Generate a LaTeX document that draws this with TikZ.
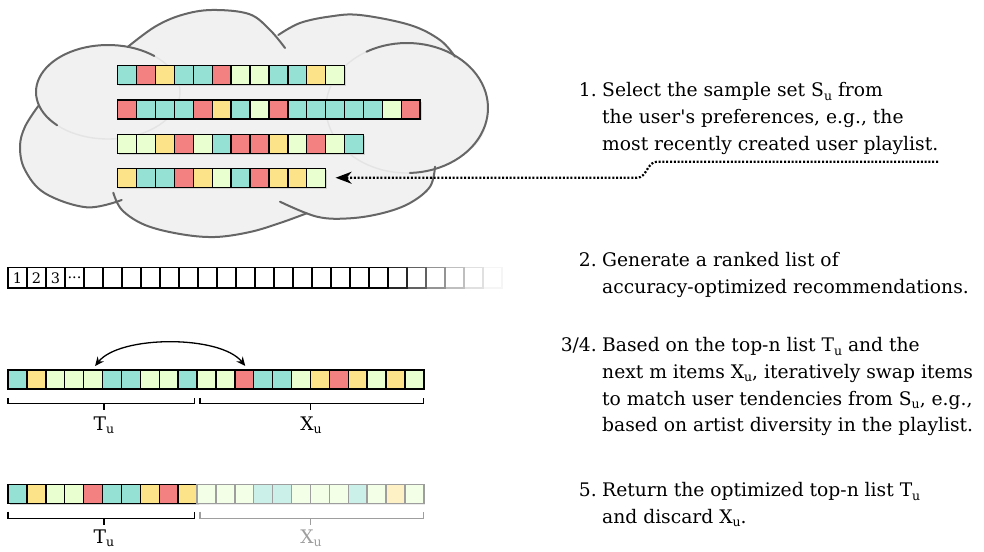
\documentclass[tikz,border=0pt]{standalone}
\usepackage{fontspec}
\setmainfont{DejaVu Serif}
\usetikzlibrary{arrows.meta}

% palette of the playlist items
\definecolor{cT}{HTML}{95E1D3}
\definecolor{cR}{HTML}{F38181}
\definecolor{cY}{HTML}{FCE38A}
\definecolor{cG}{HTML}{EAFFD0}
\colorlet{fT}{cT!50!white}
\colorlet{fR}{cR!50!white}
\colorlet{fY}{cY!50!white}
\colorlet{fG}{cG!50!white}
\definecolor{cloudfill}{HTML}{F1F1F1}
\definecolor{cloudline}{HTML}{666666}
\definecolor{cloudfaint}{HTML}{E4E4E4}
\colorlet{shadowc}{black!18}
\colorlet{fadeline}{black!38}

\newcommand{\subu}{\raisebox{-3.5pt}{\fontsize{12.5}{12.5}\selectfont u}}
\newcommand{\apos}{\textquotesingle}
\newcommand{\rankdots}{...}

\tikzset{
  cell/.style={draw=black, line width=1.4pt, minimum width=18.9pt, minimum height=18.9pt,
               inner sep=0pt, outer sep=0pt, anchor=north west},
  rankcell/.style={cell, line width=1.1pt, minimum width=19pt, minimum height=20.5pt,
                   fill=white, font=\fontsize{14.5}{14.5}\selectfont},
  bodytext/.style={font=\fontsize{18.7}{22}\selectfont, inner sep=0pt, anchor=base west},
  numtext/.style={bodytext, anchor=base east},
  lobe/.style={draw=cloudline, line width=2pt, line cap=round},
  faintlobe/.style={draw=cloudfaint, line width=1.4pt},
  brace/.style={line width=1.5pt},
  swap/.style={line width=1.3pt, {Stealth[length=9pt,width=8pt]}-{Stealth[length=9pt,width=8pt]}},
  link/.style={line width=2.2pt, dash pattern=on 2pt off 1.8pt,
               -{Stealth[length=16pt,width=12pt,inset=5pt]}},
}

% a row of coloured items: name prefix, left x, top y, number of normal items, colours
\newcommand{\cellrow}[5]{%
  \foreach \c [count=\i from 1] in {#5} {
    \ifnum\i>#4\relax
      \fill[black!8] ({#2+18.9*(\i-1)+1.5},{#3+1.5}) rectangle +(18.9,18.9);
      \node[cell, draw=fadeline, fill=f\c] (#1-\i) at ({#2+18.9*(\i-1)},#3) {};
    \else
      \fill[shadowc] ({#2+18.9*(\i-1)+1.5},{#3+1.5}) rectangle +(18.9,18.9);
      \node[cell, fill=c\c] (#1-\i) at ({#2+18.9*(\i-1)},#3) {};
    \fi
  }}

\begin{document}
\begin{tikzpicture}[x=1pt,y=-1pt]
\useasboundingbox (0,0) rectangle (984,551);

% ---- cloud of user playlists ----
\fill[cloudfill] (108,92) ellipse [x radius=72, y radius=47];
\fill[cloudfill] (407,108) ellipse [x radius=81, y radius=65];
\fill[cloudfill]
  plot[smooth, tension=0.6] coordinates {(56.7,126) (41.7,110) (35.7,91.7) (48,66.7) (75,50) (108.3,45) (131.7,46.7) (156.7,52.7)}
  -- plot[smooth, tension=0.6] coordinates {(128,46.7) (155,26.7) (181.7,15) (211.7,10) (249,14) (270,30) (285,48)}
  -- plot[smooth, tension=0.6] coordinates {(278.3,35) (300,23) (330,16.5) (360,15) (410,25) (440,40) (455,56.7)}
  -- plot[smooth, tension=0.6] coordinates {(365,51.7) (406.7,43.3) (450,55) (476.7,78.3) (488.3,106.7) (480,140) (450,163) (410,175)}
  -- plot[smooth, tension=0.6] coordinates {(435,166.7) (430,186.7) (410,203) (383,213) (350,218.3) (317,216.7) (280,201.7)}
  -- plot[smooth, tension=0.6] coordinates {(306.7,213.3) (280,223) (250,232) (215,237) (180,234) (145,225) (122,210) (113.3,192.7)}
  -- plot[smooth, tension=0.6] coordinates {(121.7,200) (86.7,207.3) (45,193.3) (25,170) (20,146.7) (25,126.7) (38.3,106)}
  -- cycle;
\fill[cloudfill] (45,110) -- (135,55) -- (280,50) -- (440,55) -- (425,170) -- (305,208) -- (118,192) -- (40,150) -- cycle;

% hidden parts of the lobes, barely visible through the fill
\draw[faintlobe] plot[domain=225:410, samples=40] ({108+72*cos(\x)},{92-47*sin(\x)});
\draw[faintlobe] plot[domain=120:272, samples=40] ({407+81*cos(\x)},{108-65*sin(\x)});

% visible outlines of the lobes
\draw[lobe] plot[domain=50:225, samples=40] ({108+72*cos(\x)},{92-47*sin(\x)});
\draw[lobe] plot[smooth, tension=0.6] coordinates {(128,46.7) (155,26.7) (181.7,15) (211.7,10) (249,14) (270,30) (285,48)};
\draw[lobe] plot[smooth, tension=0.6] coordinates {(278.3,35) (300,23) (330,16.5) (360,15) (410,25) (440,40) (455,56.7)};
\draw[lobe] plot[domain=-88:120, samples=50] ({407+81*cos(\x)},{108-65*sin(\x)});
\draw[lobe] plot[smooth, tension=0.6] coordinates {(435,166.7) (430,186.7) (410,203) (383,213) (350,218.3) (317,216.7) (280,201.7)};
\draw[lobe] plot[smooth, tension=0.6] coordinates {(306.7,213.3) (280,223) (250,232) (215,237) (180,234) (145,225) (122,210) (113.3,192.7)};
\draw[lobe] plot[smooth, tension=0.6] coordinates {(121.7,200) (86.7,207.3) (45,193.3) (25,170) (20,146.7) (25,126.7) (38.3,106)};

\cellrow{p1}{117.7}{65.7}{99}{T,R,Y,T,T,R,G,G,T,T,Y,G}
\cellrow{p2}{117.7}{100}{99}{R,T,T,T,R,Y,T,G,R,T,T,T,T,T,G,R}
\cellrow{p3}{117.7}{134.3}{99}{G,G,Y,R,G,T,R,R,Y,G,R,G,T}
\cellrow{p4}{117.7}{168.3}{99}{Y,T,T,R,Y,G,T,R,Y,Y,G}

% ---- dotted link from step 1 to the chosen playlist ----
\coordinate (lk1) at (938,161.7);
\coordinate (lk2) at (657,161.7);
\coordinate (lk3) at (637,177.75);
\draw[link] (lk1) -- (lk2) .. controls (647,161.7) and (647,177.75) .. (lk3) -- ([xshift=10pt]p4-11.east);

% ---- ranked recommendation list, fading out to the right ----
\foreach \i/\p in {26/4,25/12,24/25,23/42,22/62,21/85} {
  \node[rankcell, draw=black!\p] (k-\i) at ({8+19*(\i-1)},267.5) {};
}
\foreach \i/\t in {1/1,2/2,3/3,4/\rankdots,5/,6/,7/,8/,9/,10/,11/,12/,13/,14/,15/,16/,17/,18/,19/,20/} {
  \node[rankcell] (k-\i) at ({8+19*(\i-1)},267.5) {\t};
}

% ---- swap step ----
\cellrow{rA}{8}{370}{99}{T,Y,G,G,G,T,T,G,G,T,G,G,R,T,T,G,Y,R,Y,G,Y,G}
\draw[swap] ([xshift=2pt,yshift=4pt]rA-5.north) .. controls +(25,-31) and +(-25,-31) .. ([xshift=1pt,yshift=4pt]rA-13.north);
\draw[brace] (8,398.3) -- (8,403.3) -- (194.3,403.3) -- (194.3,398.3) (104,403.3) -- (104,410);
\draw[brace] (200,398.3) -- (200,403.3) -- (423.3,403.3) -- (423.3,398.3) (310.7,403.3) -- (310.7,410);
\node[bodytext, anchor=base] (lT1) at (104,430) {T\subu};
\node[bodytext, anchor=base] (lX1) at (311,430) {X\subu};

% ---- final list ----
\cellrow{rB}{8}{484.3}{10}{T,Y,G,G,R,T,T,Y,R,Y,G,G,G,T,T,G,G,G,T,G,Y,G}
\draw[brace] (8,511.7) -- (8,518.3) -- (194.3,518.3) -- (194.3,511.7) (104,518.3) -- (104,525);
\draw[brace, fadeline] (200,511.7) -- (200,518.3) -- (423.3,518.3) -- (423.3,511.7) (310.7,518.3) -- (310.7,525);
\node[bodytext, anchor=base] (lT2) at (104,543.3) {T\subu};
\node[bodytext, anchor=base, text=fadeline] (lX2) at (311,543.3) {X\subu};

% ---- step descriptions ----
\node[numtext] (n1) at (597,96.7) {1.};
\node[bodytext] (s1a) at (602,96.7) {Select the sample set S\subu{} from};
\node[bodytext] (s1b) at (602,123.3) {the user\apos s preferences, e.g., the};
\node[bodytext] (s1c) at (602,150) {most recently created user playlist.};

\node[numtext] (n2) at (597,266.7) {2.};
\node[bodytext] (s2a) at (602,266.7) {Generate a ranked list of};
\node[bodytext] (s2b) at (602,293.3) {accuracy-optimized recommendations.};

\node[numtext] (n3) at (597,351.7) {3/4.};
\node[bodytext] (s3a) at (602,351.7) {Based on the top-n list T\subu{} and the};
\node[bodytext] (s3b) at (602,378.3) {next m items X\subu, iteratively swap items};
\node[bodytext] (s3c) at (602,405) {to match user tendencies from S\subu, e.g.,};
\node[bodytext] (s3d) at (602,431.7) {based on artist diversity in the playlist.};

\node[numtext] (n5) at (597,496.7) {5.};
\node[bodytext] (s5a) at (602,496.7) {Return the optimized top-n list T\subu};
\node[bodytext] (s5b) at (602,523.3) {and discard X\subu.};
\end{tikzpicture}
\end{document}
